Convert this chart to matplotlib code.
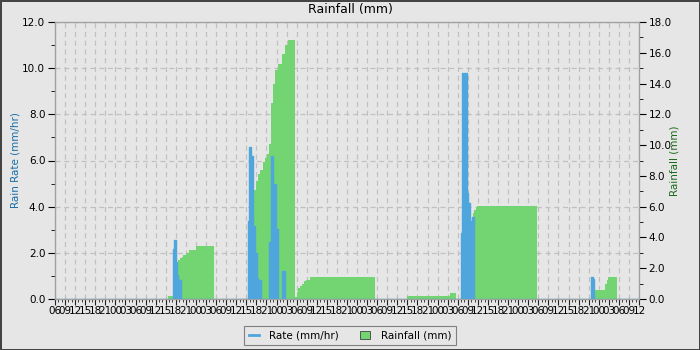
#
# Weekly rainfall chart: rain rate bars with rainfall on a second axis
#

import matplotlib
matplotlib.use("Agg")
import matplotlib.pyplot as plt
from matplotlib.ticker import MultipleLocator, FuncFormatter
from matplotlib.lines import Line2D
from matplotlib.patches import Patch

# Hours counted from 06:00 on the first day
startHour = 6
spanHours = 174

# Rain rate (mm/hr), step values starting at each time
rateHours = [0, 35.1, 35.4, 36.05, 36.3, 36.7, 36.9, 37.5,
             57.4, 57.8, 58.4, 59.0, 59.6, 60.1, 60.5, 61.4,
             63.9, 64.4, 65.0, 65.3, 65.9, 66.4, 67.6, 68.5,
             121.0, 121.3, 121.9, 122.2, 122.8, 123.1, 123.5, 123.9, 124.3, 124.9,
             159.7, 160.3, 160.6, 174]
rateValues = [0, 2.17, 2.56, 1.62, 1.04, 0, 0.82, 0,
              3.38, 6.6, 6.2, 3.16, 1.98, 0.9, 0.82, 0,
              2.48, 6.2, 0, 5.0, 3.02, 0, 1.2, 0,
              2.87, 9.8, 5.16, 9.8, 4.6, 4.17, 1.2, 3.4, 3.57, 0,
              0.97, 0.85, 0, 0]

# Rainfall (mm), step values starting at each time
rainHours = [0, 33.8, 36.3, 36.7, 37.2, 37.8, 38.2, 39.0, 40.0, 42.0, 47.4,
             57.4, 58.1, 59.0, 59.9, 60.5, 61.1, 62.0, 62.6, 63.2, 63.8,
             64.4, 65.0, 65.6, 66.4, 67.6, 68.5, 69.4,
             71.4, 72.0, 72.5, 73.0, 73.6, 74.2, 74.8, 76.0, 95.4,
             104.8, 117.7, 119.5,
             121.5, 123.3, 124.3, 124.6, 124.9, 125.4, 125.7, 143.5,
             160.6, 163.9, 164.4, 164.8, 167.4, 174]
rainValues = [0, 0.2, 2.35, 2.53, 2.64, 2.75, 2.86, 3.0, 3.18, 3.45, 0,
              0.3, 3.2, 7.1, 7.7, 8.1, 8.4, 8.9, 9.15, 9.45, 10.1,
              12.75, 14.0, 14.85, 15.3, 15.9, 16.5, 16.8,
              0.15, 0.47, 0.69, 0.87, 0.98, 1.19, 1.23, 1.43, 0,
              0.2, 0.39, 0,
              1.7, 4.5, 5.35, 5.6, 5.8, 5.95, 6.05, 0,
              0.58, 1.0, 1.23, 1.41, 0, 0]

bg = "#e6e6e6"
blue = "#4ea6dc"
green = "#72d572"
spineColor = "#a0a0a0"

fig = plt.figure(figsize=(7, 3.5), dpi=100, facecolor=bg,
                 edgecolor="#444444", linewidth=2)
ax = fig.add_axes([55 / 700, 51 / 350, 584 / 700, 277 / 350])
ax.set_facecolor(bg)

# Rainfall axis sits above the grid, rate axis above the rainfall
ax2 = ax.twinx()
ax3 = ax.twinx()

ax2.fill_between(rainHours, rainValues, step="post", color=green, lw=0)
ax3.fill_between(rateHours, rateValues, step="post", color=blue, lw=0)
ax3.step(rateHours, rateValues, where="post", color=blue, lw=1.0)

ax.set_xlim(0, spanHours)
ax.set_ylim(0, 12)
ax2.set_ylim(0, 18)
ax3.set_ylim(0, 12)
ax3.yaxis.set_visible(False)

# X ticks every 3 hours, minor every hour
ax.xaxis.set_major_locator(MultipleLocator(3))
ax.xaxis.set_minor_locator(MultipleLocator(1))
ax.xaxis.set_major_formatter(FuncFormatter(lambda v, p: "%02d" % ((int(round(v)) + startHour) % 24)))

ax.yaxis.set_major_locator(MultipleLocator(2))
ax.yaxis.set_minor_locator(MultipleLocator(1))
ax.yaxis.set_major_formatter(FuncFormatter(lambda v, p: "%.1f" % v))
ax2.yaxis.set_major_locator(MultipleLocator(2))
ax2.yaxis.set_minor_locator(MultipleLocator(1))
ax2.yaxis.set_major_formatter(FuncFormatter(lambda v, p: "%.1f" % v))

ax.tick_params(axis="x", which="major", length=4, labelsize=7.5, pad=1, color="#202020")
ax.tick_params(axis="x", which="minor", length=2, color="#202020")
ax.tick_params(axis="y", which="major", length=5, labelsize=7.5, pad=2)
ax.tick_params(axis="y", which="minor", length=3)
ax2.tick_params(axis="y", which="major", length=5, labelsize=7.5, pad=2)
ax2.tick_params(axis="y", which="minor", length=3)

ax.grid(True, which="major", color="#c0c0c0", linestyle=(0, (4, 3)), lw=0.9)

for a in [ax, ax2, ax3]:
    for s in a.spines.values():
        s.set_color(spineColor)

ax.set_ylabel("Rain Rate (mm/hr)", fontsize=7.5, color="#1a6ea8", labelpad=1)
ax2.set_ylabel("Rainfall (mm)", fontsize=7.5, color="#1a6a1a", labelpad=-2)
fig.suptitle("Rainfall (mm)", fontsize=9, y=0.99)

handles = [Line2D([], [], color=blue, lw=2),
           Patch(facecolor=green, edgecolor="#404040", lw=0.6)]
leg = fig.legend(handles, ["Rate (mm/hr)", "Rainfall (mm)"], loc="lower center",
                 bbox_to_anchor=(0.5, 0.0), ncol=2, fontsize=7.5, fancybox=False,
                 facecolor=bg, edgecolor="#808080", framealpha=1,
                 handlelength=1.0, handleheight=0.8, columnspacing=2.0,
                 borderpad=0.4, handletextpad=1.0)
leg.get_frame().set_linewidth(0.8)

fig.savefig("out.png", dpi=100, facecolor=bg)
